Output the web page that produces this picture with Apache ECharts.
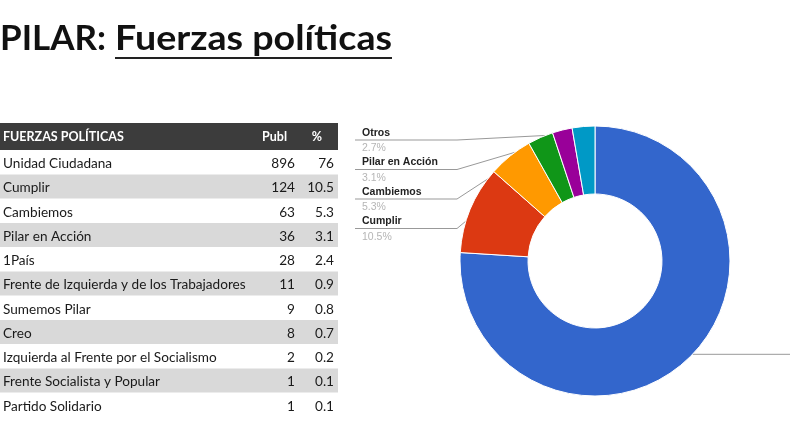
<!DOCTYPE html>
<html><head><meta charset="utf-8">
<script src="https://cdn.jsdelivr.net/npm/echarts@6/dist/echarts.min.js"></script>
<style>html,body{margin:0;padding:0;background:#fff}#c{width:790px;height:444px}</style>
</head><body><div id="c"></div>
<script>
const titlePrefix = 'PILAR:';
const titleMain = 'Fuerzas políticas';
const tableHeader = ['FUERZAS POLÍTICAS', 'Publ', '%'];
const parties = ['Unidad Ciudadana','Cumplir','Cambiemos','Pilar en Acción','1País','Frente de Izquierda y de los Trabajadores','Sumemos Pilar','Creo','Izquierda al Frente por el Socialismo','Frente Socialista y Popular','Partido Solidario'];
const publ = [896,124,63,36,28,11,9,8,2,1,1];
const pct = ['76','10.5','5.3','3.1','2.4','0.9','0.8','0.7','0.2','0.1','0.1'];
const pieNames = ['Unidad Ciudadana','Cumplir','Cambiemos','Pilar en Acción','1País','Otros'];
const pieValues = [896,124,63,36,28,32];
const pieColors = ['#3366cc','#dc3912','#ff9900','#109618','#990099','#0099c6'];
const labelSlot = {5:0, 3:1, 2:2, 1:3};

const TF = 'Lato, "Open Sans", sans-serif';
const titleFont = 'bold 35px ' + TF;
const cvs = document.createElement('canvas').getContext('2d');
cvs.font = titleFont;
const mainW = cvs.measureText(titleMain).width;
const mainTarget = 277;

const graphic = [];
graphic.push({type:'text', x:0, y:56, style:{text:titlePrefix, font:titleFont, fill:'#111', align:'left', verticalAlign:'bottom'}});
graphic.push({type:'text', x:115, y:56, scaleX: mainTarget/mainW, style:{text:titleMain, font:titleFont, fill:'#111', align:'left', verticalAlign:'bottom'}});
graphic.push({type:'rect', shape:{x:115, y:57, width:mainTarget, height:2}, style:{fill:'#222'}});

const tx0 = 3, xPubl = 295, xPct = 334, tw = 338;
graphic.push({type:'rect', shape:{x:0, y:123, width:tw, height:27}, style:{fill:'#3c3c3c'}});
const hFont = 'bold 12.5px ' + TF;
graphic.push({type:'text', x:tx0, y:137, style:{text:tableHeader[0], font:hFont, fill:'#fff', align:'left', verticalAlign:'middle'}});
graphic.push({type:'text', x:287, y:137, style:{text:tableHeader[1], font:hFont, fill:'#fff', align:'right', verticalAlign:'middle'}});
graphic.push({type:'text', x:322, y:137, style:{text:tableHeader[2], font:hFont, fill:'#fff', align:'right', verticalAlign:'middle'}});
const rFont = '13.6px ' + TF;
parties.forEach((p, i) => {
  const cy = 162.3 + 24.25 * i;
  if (i % 2 === 1) graphic.push({type:'rect', shape:{x:0, y:cy-12, width:tw, height:24}, style:{fill:'#d9d9d9'}});
  graphic.push({type:'text', x:tx0, y:cy+1.5, style:{text:p, font:rFont, fill:'#1a1a1a', align:'left', verticalAlign:'middle'}});
  graphic.push({type:'text', x:xPubl, y:cy+1.5, style:{text:String(publ[i]), font:rFont, fill:'#1a1a1a', align:'right', verticalAlign:'middle'}});
  graphic.push({type:'text', x:xPct, y:cy+1.5, style:{text:pct[i], font:rFont, fill:'#1a1a1a', align:'right', verticalAlign:'middle'}});
});

const CX = 595, CY = 261, R0 = 67, R1 = 135;
const total = pieValues.reduce((a,b)=>a+b,0);
function midAngle(i){ let c=0; for(let k=0;k<i;k++) c+=pieValues[k]; return 2*Math.PI*(c+pieValues[i]/2)/total; }
function clipToCircle(p, q, r){
  const dx=q[0]-p[0], dy=q[1]-p[1];
  const fx=p[0]-CX, fy=p[1]-CY;
  const a=dx*dx+dy*dy, b=2*(fx*dx+fy*dy), c=fx*fx+fy*fy-r*r;
  const disc=b*b-4*a*c;
  if (disc<0) return q;
  const t=(-b-Math.sqrt(disc))/(2*a);
  if (t<0||t>1) return q;
  return [p[0]+t*dx, p[1]+t*dy];
}

const chart = echarts.init(document.getElementById('c'));
chart.setOption({
  backgroundColor:'#fff',
  animation:false,
  graphic: graphic,
  series:[{
    type:'pie',
    center:[CX, CY],
    radius:[R0, R1],
    startAngle:90,
    clockwise:true,
    percentPrecision:1,
    avoidLabelOverlap:false,
    itemStyle:{borderColor:'#fff', borderWidth:1},
    data: pieNames.map((n,i)=>({name:n, value:pieValues[i], itemStyle:{color:pieColors[i]}, label:{show: i!==4}, labelLine:{show: i!==4}})),
    label:{
      show:true, position:'outside',
      formatter: p => '{n|' + p.name + '}\n{p|' + p.percent + '%}',
      rich:{
        n:{fontFamily:'Liberation Sans, Arial, sans-serif', fontWeight:'bold', fontSize:10.5, color:'#222', lineHeight:14},
        p:{fontFamily:'Liberation Sans, Arial, sans-serif', fontSize:10.5, color:'#b5b5b5', lineHeight:17}
      }
    },
    labelLine:{show:true, lineStyle:{color:'#999', width:1}},
    labelLayout: function(params){
      const i = params.dataIndex;
      const a = midAngle(i);
      const dot = [CX + 128*Math.sin(a), CY - 128*Math.cos(a)];
      if (i === 0) {
        return {x:900, y:dot[1], align:'left', verticalAlign:'middle', labelLinePoints:[clipToCircle([800,dot[1]], dot, R1), [795,dot[1]], [800,dot[1]]]};
      }
      const s = labelSlot[i];
      if (s === undefined) return {};
      const top = 126 + 29.5*s;
      const ly = top + 14;
      const knee = [457, ly];
      const end = clipToCircle(knee, dot, R1);
      return {x:362, y:top, align:'left', verticalAlign:'top', labelLinePoints:[end, knee, [355, ly]]};
    }
  }]
});
</script></body></html>
